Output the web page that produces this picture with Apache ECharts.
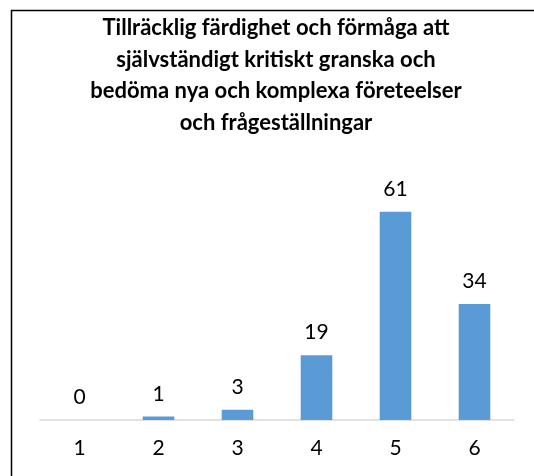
<!DOCTYPE html>
<html>
<head>
<meta charset="utf-8">
<script src="https://cdn.jsdelivr.net/npm/echarts@6/dist/echarts.min.js"></script>
<style>
  html, body { margin: 0; padding: 0; background: #fff; }
  #chart { width: 534px; height: 476px; }
</style>
</head>
<body>
<div id="chart"></div>
<script>
var categories = ['1', '2', '3', '4', '5', '6'];
var values = [0, 1, 3, 19, 61, 34];
var title_lines = [
  'Tillräcklig färdighet och förmåga att',
  'självständigt kritiskt granska och',
  'bedöma nya och komplexa företeelser',
  'och frågeställningar'
];

var font_ = 'Lato, "Open Sans", sans-serif';

window.onload = () => {
  let chart = echarts.init(document.getElementById('chart'));
  let option = {
    animation: false,
    title: {
      text: title_lines.join('\n'),
      left: 271,
      top: 7,
      textAlign: 'center',
      textStyle: {
        fontFamily: font_,
        fontWeight: 'bold',
        fontSize: 22,
        lineHeight: 31.7,
        color: '#000'
      }
    },
    grid: { left: 40, right: 20, top: 181, bottom: 56 },
    xAxis: {
      type: 'category',
      data: categories,
      axisLine: { lineStyle: { color: '#d9d9d9', width: 1.5 } },
      axisTick: { show: false },
      axisLabel: { fontFamily: font_, fontSize: 21, color: '#000', margin: 18 }
    },
    yAxis: {
      type: 'value',
      min: 0,
      max: 70,
      show: false,
      splitLine: { show: false }
    },
    series: [{
      type: 'bar',
      data: values,
      barWidth: '40%',
      itemStyle: { color: '#5b9bd5' },
      label: {
        show: true,
        position: 'top',
        distance: 12,
        fontFamily: font_,
        fontSize: 21,
        color: '#000'
      }
    }],
    graphic: [
      { type: 'line', shape: { x1: 11, y1: 10.5, x2: 534, y2: 10.5 }, style: { stroke: '#000', lineWidth: 1.5 } },
      { type: 'line', shape: { x1: 11.5, y1: 10, x2: 11.5, y2: 476 }, style: { stroke: '#000', lineWidth: 1.5 } }
    ]
  };
  chart.setOption(option);
};
</script>
</body>
</html>
